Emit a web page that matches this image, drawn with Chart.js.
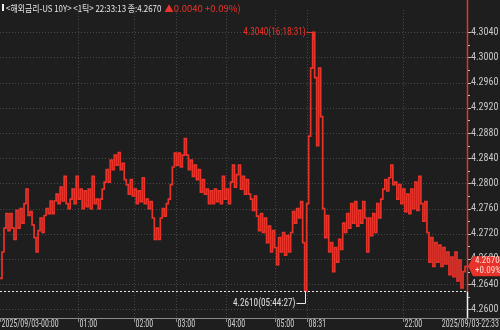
<!DOCTYPE html>
<html><head><meta charset="utf-8">
<script src="https://cdn.jsdelivr.net/npm/chart.js@4.4.1/dist/chart.umd.min.js"></script>
<style>html,body{margin:0;padding:0;background:#1e1e1e;overflow:hidden}canvas{display:block}</style>
</head><body>
<canvas id="c" width="500" height="330"></canvas>
<script>
// ---- data ----
const yieldValues = [
4.2649,4.2691,4.2729,4.2752,4.2725,4.2752,4.2729,4.2711,4.2757,4.2729,
4.2760,4.2737,4.2768,4.2791,4.2749,4.2755,4.2734,4.2714,4.2691,4.2725,
4.2745,4.2722,4.2749,4.2760,4.2752,4.2772,4.2752,4.2772,4.2783,4.2768,
4.2794,4.2772,4.2811,4.2768,4.2760,4.2775,4.2791,4.2768,4.2811,4.2775,
4.2791,4.2760,4.2788,4.2763,4.2791,4.2760,4.2811,4.2768,4.2775,4.2760,
4.2775,4.2791,4.2802,4.2822,4.2802,4.2837,4.2822,4.2845,4.2829,4.2849,
4.2822,4.2832,4.2806,4.2798,4.2783,4.2806,4.2780,4.2791,4.2768,4.2788,
4.2771,4.2809,4.2768,4.2775,4.2760,4.2771,4.2745,4.2711,4.2729,4.2711,
4.2745,4.2760,4.2748,4.2768,4.2775,4.2798,4.2826,4.2848,4.2829,4.2848,
4.2826,4.2845,4.2871,4.2845,4.2822,4.2837,4.2811,4.2829,4.2806,4.2822,
4.2786,4.2806,4.2783,4.2791,4.2768,4.2788,4.2768,4.2791,4.2771,4.2788,
4.2768,4.2811,4.2775,4.2791,4.2768,4.2802,4.2829,4.2794,4.2814,4.2829,
4.2791,4.2811,4.2783,4.2806,4.2783,4.2775,4.2757,4.2780,4.2748,4.2725,
4.2752,4.2722,4.2745,4.2706,4.2732,4.2691,4.2725,4.2698,4.2671,4.2714,
4.2691,4.2722,4.2686,4.2717,4.2691,4.2722,4.2755,4.2737,4.2760,4.2745,
4.2771,4.2706,4.2629,4.2768,4.2875,4.2983,4.3040,4.2968,4.2860,4.2983,
4.2906,4.2760,4.2714,4.2749,4.2691,4.2706,4.2660,4.2698,4.2675,4.2711,
4.2695,4.2737,4.2722,4.2752,4.2729,4.2768,4.2737,4.2771,4.2732,4.2757,
4.2737,4.2771,4.2745,4.2691,4.2745,4.2717,4.2752,4.2722,4.2768,4.2745,
4.2775,4.2791,4.2806,4.2788,4.2809,4.2829,4.2798,4.2802,4.2775,4.2798,
4.2768,4.2791,4.2755,4.2783,4.2752,4.2791,4.2760,4.2802,4.2757,4.2811,
4.2768,4.2740,4.2771,4.2722,4.2675,4.2714,4.2668,4.2706,4.2675,4.2702,
4.2668,4.2698,4.2672,4.2691,4.2655,4.2683,4.2652,4.2691,4.2645,4.2678,
4.2634,4.2660,4.2668,4.2670
];
const yTickValues = [4.3040,4.3000,4.2960,4.2920,4.2880,4.2840,4.2800,4.2760,4.2720,4.2680,4.2640,4.2600];
const yTickLabels = ['4.3040','4.3000','4.2960','4.2920','4.2880','4.2840','4.2800','4.2760','4.2720','4.2680','4.2640','4.2600'];
const xTickIndex = [0,39,67,88,113,137,153,201];
const xTickLabels = ['2025/09/03-00:00','01:00','02:00','03:00','04:00','05:00','08:31','22:00'];
const xLastLabel = '2025/09/03-22:33';
const titleMain = '<해외금리-US 10Y> <1틱> 22:33:13 종:4.2670';
const titleChange = '▲0.0040 +0.09%)';
const highLabel = '4.3040(16:18:31)';
const lowLabel = '4.2610(05:44:27)';
const lastPrice = '4.2670';
const lastPct = '+0.09%';

const RED = '#e8332a';
const BG = '#1e1e1e';
const FONT = "'Liberation Sans Narrow','Roboto Condensed','Liberation Sans',Arial,sans-serif";

const points = yieldValues.map((v, i) => ({x: i, y: v}));
const highIndex = yieldValues.indexOf(Math.max(...yieldValues));
const lowIndex = yieldValues.indexOf(Math.min(...yieldValues));

function squeezeText(ctx, text, x, y, sx, align) {
  ctx.save();
  ctx.translate(x, y);
  ctx.scale(sx, 1);
  ctx.textAlign = align;
  ctx.fillText(text, 0, 0);
  ctx.restore();
  return ctx.measureText(text).width * sx;
}

const decor = {
  id: 'decor',
  beforeDraw(chart) {
    const ctx = chart.ctx;
    ctx.save();
    ctx.fillStyle = BG;
    ctx.fillRect(0, 0, chart.width, chart.height);
    ctx.restore();
  },
  beforeDatasetsDraw(chart) {
    const {ctx, chartArea: a, scales: {x, y}} = chart;
    ctx.save();
    ctx.strokeStyle = '#474747';
    ctx.lineWidth = 1;
    ctx.setLineDash([1, 2]);
    yTickValues.forEach(v => {
      const py = Math.round(y.getPixelForValue(v)) + 0.5;
      ctx.beginPath(); ctx.moveTo(a.left, py); ctx.lineTo(a.right, py); ctx.stroke();
    });
    xTickIndex.forEach((ix, k) => {
      if (k === 0) return;
      const px = Math.round(x.getPixelForValue(ix)) + 0.5;
      ctx.beginPath(); ctx.moveTo(px, a.top); ctx.lineTo(px, a.bottom); ctx.stroke();
    });
    ctx.restore();
  },
  afterDraw(chart) {
    const {ctx, chartArea: a, scales: {x, y}} = chart;
    ctx.save();
    // low dashed line
    const lowY = Math.round(y.getPixelForValue(yieldValues[lowIndex])) + 0.5;
    ctx.strokeStyle = '#e8e8e8';
    ctx.setLineDash([2, 2]);
    ctx.beginPath(); ctx.moveTo(a.left, lowY); ctx.lineTo(a.right, lowY); ctx.stroke();
    ctx.setLineDash([]);
    // right vertical line
    const rx = a.right + 0.5;
    ctx.strokeStyle = RED; ctx.lineWidth = 1.5;
    ctx.beginPath(); ctx.moveTo(rx, 0); ctx.lineTo(rx, lowY); ctx.stroke();
    ctx.strokeStyle = '#f0f0f0'; ctx.lineWidth = 1.5;
    ctx.beginPath(); ctx.moveTo(rx, lowY); ctx.lineTo(rx, a.bottom); ctx.stroke();
    ctx.lineWidth = 1;
    // y tick marks
    ctx.strokeStyle = '#bdbdbd';
    for (let k = 0; k < yTickValues.length; k++) {
      const py = Math.round(y.getPixelForValue(yTickValues[k])) + 0.5;
      ctx.beginPath(); ctx.moveTo(a.right + 1, py); ctx.lineTo(a.right + 4, py); ctx.stroke();
      if (k < yTickValues.length - 1) {
        const pm = Math.round(y.getPixelForValue((yTickValues[k] + yTickValues[k + 1]) / 2)) + 0.5;
        ctx.beginPath(); ctx.moveTo(a.right + 1, pm); ctx.lineTo(a.right + 3, pm); ctx.stroke();
      }
    }
    // x axis line
    ctx.strokeStyle = '#8a8a8a';
    ctx.beginPath(); ctx.moveTo(0, a.bottom + 0.5); ctx.lineTo(chart.width, a.bottom + 0.5); ctx.stroke();
    ctx.font = '10px ' + FONT;
    ctx.fillStyle = '#cfcfcf';
    ctx.textBaseline = 'middle';
    xTickIndex.forEach((ix, k) => {
      const px = Math.round(x.getPixelForValue(ix)) + 0.5;
      ctx.beginPath(); ctx.moveTo(px, a.bottom); ctx.lineTo(px, a.bottom + 4); ctx.stroke();
      squeezeText(ctx, xTickLabels[k], px + 1, a.bottom + 6.5, 0.8, 'left');
    });
    squeezeText(ctx, xLastLabel, chart.width - 1, a.bottom + 6.5, 0.8, 'right');
    // high label
    const hx = x.getPixelForValue(highIndex), hy = y.getPixelForValue(yieldValues[highIndex]);
    ctx.strokeStyle = RED; ctx.fillStyle = RED;
    ctx.beginPath(); ctx.moveTo(hx - 6, Math.round(hy) + 0.5); ctx.lineTo(Math.round(hx) + 0.5, Math.round(hy) + 0.5); ctx.lineTo(Math.round(hx) + 0.5, hy + 8); ctx.stroke();
    squeezeText(ctx, highLabel, hx - 7, hy, 0.92, 'right');
    // low label
    const lx = Math.round(x.getPixelForValue(lowIndex)) + 0.5, ly = lowY;
    ctx.strokeStyle = '#e8e8e8'; ctx.fillStyle = '#e0e0e0';
    ctx.beginPath(); ctx.moveTo(lx, ly); ctx.lineTo(lx, ly + 12); ctx.lineTo(lx - 9, ly + 12); ctx.stroke();
    squeezeText(ctx, lowLabel, lx - 10, ly + 12, 0.92, 'right');
    // price tag
    const py = y.getPixelForValue(yieldValues[yieldValues.length - 1]);
    ctx.fillStyle = RED;
    ctx.beginPath();
    ctx.moveTo(a.right + 1, py + 1);
    ctx.lineTo(a.right + 6, py - 9);
    ctx.lineTo(chart.width, py - 9);
    ctx.lineTo(chart.width, py + 11);
    ctx.lineTo(a.right + 6, py + 11);
    ctx.closePath(); ctx.fill();
    ctx.fillStyle = '#ffd9d4';
    ctx.font = '9px ' + FONT;
    ctx.textAlign = 'left';
    ctx.fillText(lastPrice, a.right + 8, py - 4);
    ctx.fillText(lastPct, a.right + 8, py + 5.5);
    // title
    ctx.fillStyle = '#f0f0f0';
    ctx.fillRect(2, 4, 2, 7);
    ctx.font = "9.5px 'Noto Sans CJK KR'," + FONT;
    ctx.fillStyle = '#e6e6e6';
    const w = squeezeText(ctx, titleMain, 6, 8, 0.83, 'left');
    ctx.fillStyle = RED;
    squeezeText(ctx, titleChange, 6 + w + 3, 8, 1, 'left');
    ctx.restore();
  }
};

new Chart(document.getElementById('c'), {
  type: 'line',
  data: { datasets: [{
    data: points,
    borderColor: RED,
    borderWidth: 1.7,
    pointRadius: 0,
    stepped: true,
    fill: false
  }]},
  options: {
    responsive: false,
    animation: false,
    devicePixelRatio: 1,
    layout: { padding: { left: 0, right: 0, top: 0, bottom: 12 } },
    plugins: { legend: { display: false }, tooltip: { enabled: false } },
    scales: {
      x: { type: 'linear', min: 0, max: yieldValues.length - 1, display: false },
      y: {
        position: 'right',
        min: 4.25862, max: 4.30754,
        grid: { display: false, drawTicks: false },
        border: { display: false },
        afterFit(s) { s.width = 33; },
        afterBuildTicks(s) { s.ticks = yTickValues.map(v => ({ value: v })); },
        ticks: {
          autoSkip: false,
          padding: 4,
          color: '#c8c8c8',
          font: { family: FONT, size: 10 },
          callback: (v, i) => yTickLabels[i]
        }
      }
    }
  },
  plugins: [decor]
});
</script>
</body></html>
